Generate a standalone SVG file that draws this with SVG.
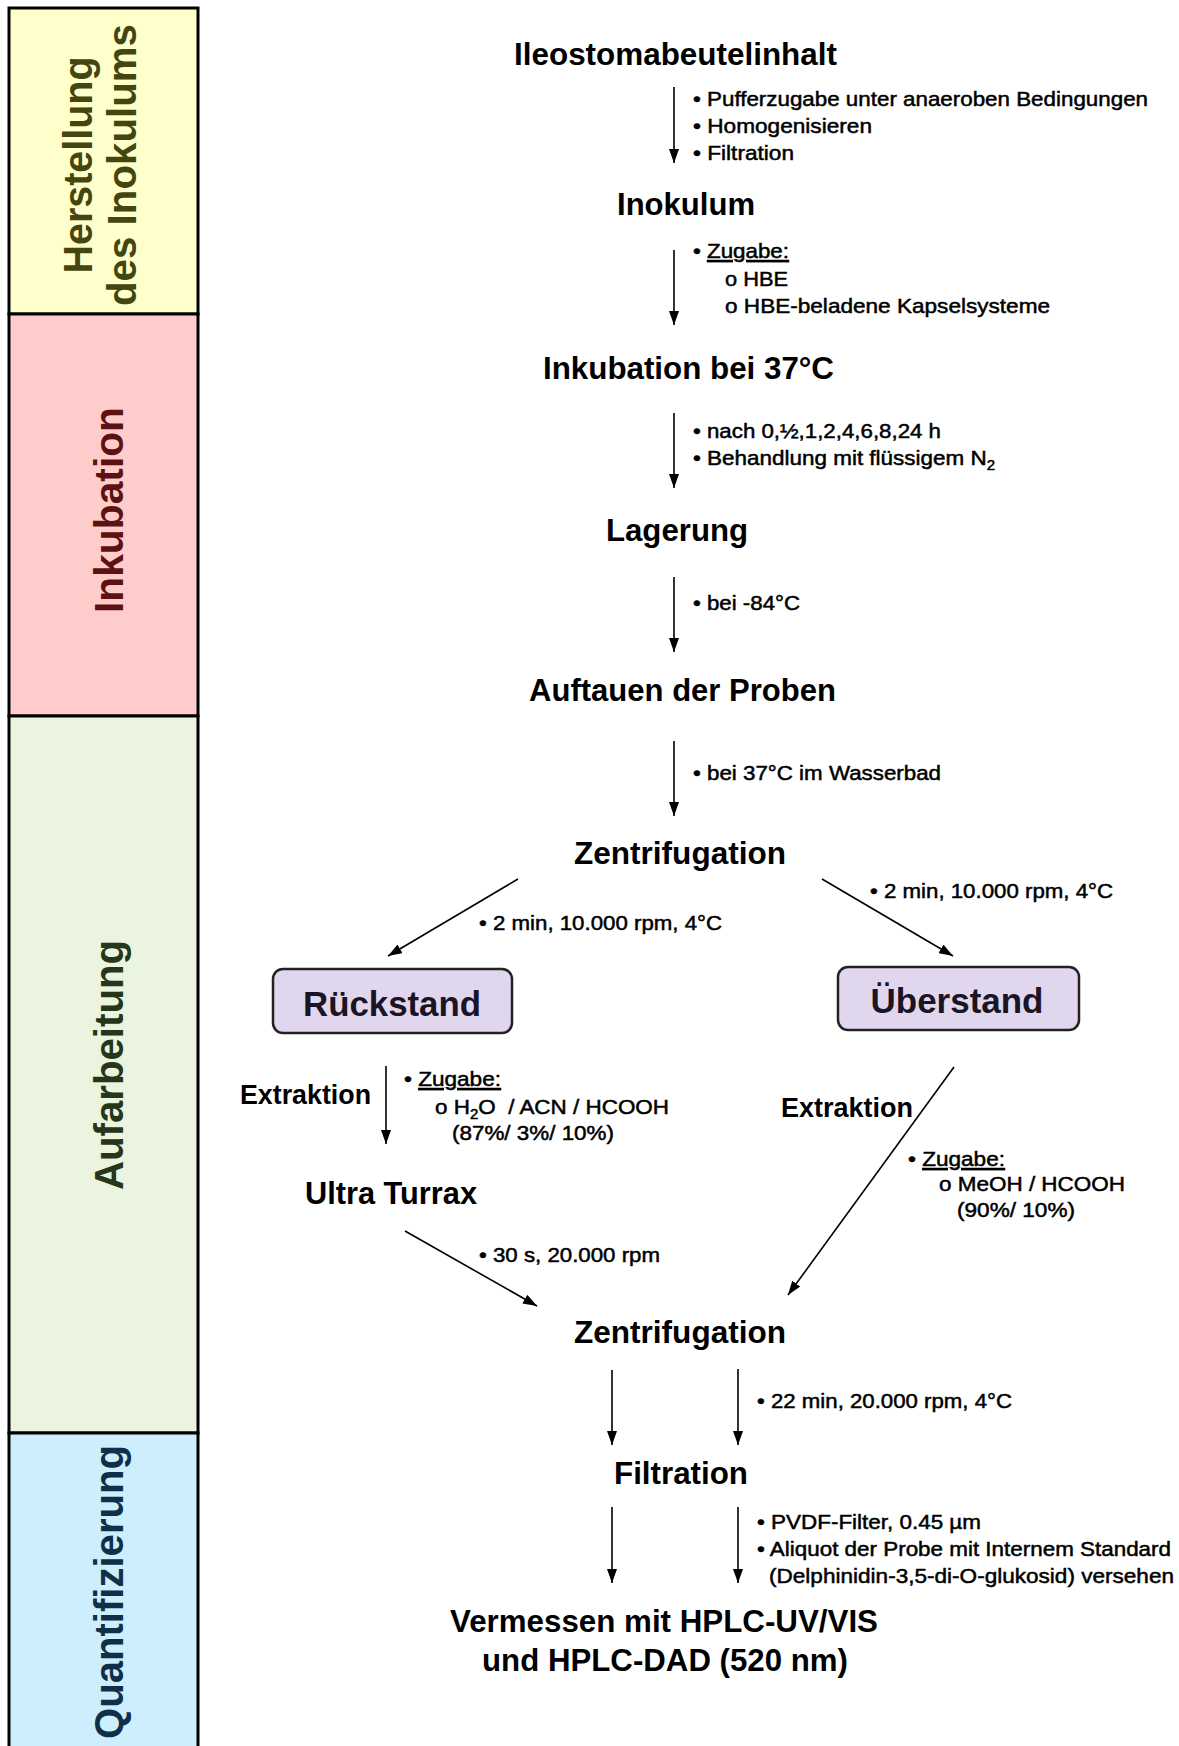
<svg xmlns="http://www.w3.org/2000/svg" width="1179" height="1746" viewBox="0 0 1179 1746">
  <defs>
    <marker id="ah" viewBox="0 0 14 10" refX="14" refY="5" markerWidth="14" markerHeight="10" orient="auto" markerUnits="userSpaceOnUse">
      <path d="M0,0 L14,5 L0,10 z" fill="#000"/>
    </marker>
    <style>
      text { font-family: "Liberation Sans", Arial, sans-serif; fill: #000; }
      .phase { font-size: 40px; font-weight: bold; text-anchor: middle; }
      .title { font-size: 31px; font-weight: bold; }
      .sub { font-size: 27px; font-weight: bold; }
      .boxlbl { font-size: 35px; font-weight: bold; text-anchor: middle; fill: #1a1424; }
      .note { font-size: 21px; stroke: #000; stroke-width: 0.5px; }
      .ul { text-decoration: underline; }
      .box { fill: #e0d7ee; stroke: #222; stroke-width: 2.5; }
      .conn line { stroke: #000; stroke-width: 1.6; marker-end: url(#ah); }
      .band { stroke: #000; stroke-width: 3; }
    </style>
  </defs>
  <rect x="0" y="0" width="1179" height="1746" fill="#fff"/>

  <!-- phase column -->
  <g id="phase-herstellung">
    <rect class="band" x="9" y="8" width="189" height="306" fill="#ffffcc"/>
    <text class="phase" style="fill:#45450f" transform="translate(92,165) rotate(-90)" textLength="217" lengthAdjust="spacingAndGlyphs">Herstellung</text>
    <text class="phase" style="fill:#45450f" transform="translate(136,165) rotate(-90)" textLength="282" lengthAdjust="spacingAndGlyphs">des Inokulums</text>
  </g>
  <g id="phase-inkubation">
    <rect class="band" x="9" y="314" width="189" height="402" fill="#ffcccc"/>
    <text class="phase" style="fill:#5c1212" transform="translate(123,510) rotate(-90)" textLength="206" lengthAdjust="spacingAndGlyphs">Inkubation</text>
  </g>
  <g id="phase-aufarbeitung">
    <rect class="band" x="9" y="716" width="189" height="717" fill="#ebf4df"/>
    <text class="phase" style="fill:#26361a" transform="translate(123,1065) rotate(-90)" textLength="250" lengthAdjust="spacingAndGlyphs">Aufarbeitung</text>
  </g>
  <g id="phase-quantifizierung">
    <rect class="band" x="9" y="1433" width="189" height="330" fill="#cdeefc"/>
    <text class="phase" style="fill:#0f3048" transform="translate(123,1592) rotate(-90)" textLength="294" lengthAdjust="spacingAndGlyphs">Quantifizierung</text>
  </g>

  <!-- connectors -->
  <g id="connectors" class="conn">
    <line x1="674" y1="87" x2="674" y2="163"/>
    <line x1="674" y1="250" x2="674" y2="325"/>
    <line x1="674" y1="413" x2="674" y2="488"/>
    <line x1="674" y1="577" x2="674" y2="652"/>
    <line x1="674" y1="741" x2="674" y2="816"/>
    <line x1="518" y1="879" x2="388" y2="956"/>
    <line x1="822" y1="879" x2="953" y2="956"/>
    <line x1="386" y1="1066" x2="386" y2="1144"/>
    <line x1="405" y1="1231" x2="537" y2="1306"/>
    <line x1="954" y1="1067" x2="788" y2="1295"/>
    <line x1="612" y1="1370" x2="612" y2="1445"/>
    <line x1="738" y1="1369" x2="738" y2="1445"/>
    <line x1="612" y1="1507" x2="612" y2="1583"/>
    <line x1="738" y1="1507" x2="738" y2="1583"/>
  </g>

  <!-- process steps -->
  <g id="n-ileostoma">
    <text class="title" x="514" y="65" textLength="323" lengthAdjust="spacingAndGlyphs">Ileostomabeutelinhalt</text>
  </g>
  <g id="n-ileostoma-notes">
    <text class="note" x="693" y="106" textLength="455" lengthAdjust="spacingAndGlyphs">• Pufferzugabe unter anaeroben Bedingungen</text>
    <text class="note" x="693" y="133" textLength="179" lengthAdjust="spacingAndGlyphs">• Homogenisieren</text>
    <text class="note" x="693" y="160" textLength="101" lengthAdjust="spacingAndGlyphs">• Filtration</text>
  </g>
  <g id="n-inokulum">
    <text class="title" x="617" y="215" textLength="138" lengthAdjust="spacingAndGlyphs">Inokulum</text>
  </g>
  <g id="n-inokulum-notes">
    <text class="note" x="693" y="258" textLength="96" lengthAdjust="spacingAndGlyphs">• <tspan class="ul">Zugabe:</tspan></text>
    <text class="note" x="725" y="286" textLength="63" lengthAdjust="spacingAndGlyphs">o HBE</text>
    <text class="note" x="725" y="313" textLength="325" lengthAdjust="spacingAndGlyphs">o HBE-beladene Kapselsysteme</text>
  </g>
  <g id="n-inkubation">
    <text class="title" x="543" y="379" textLength="291" lengthAdjust="spacingAndGlyphs">Inkubation bei 37°C</text>
  </g>
  <g id="n-inkubation-notes">
    <text class="note" x="693" y="438" textLength="248" lengthAdjust="spacingAndGlyphs">• nach 0,½,1,2,4,6,8,24 h</text>
    <text class="note" x="693" y="465" textLength="302" lengthAdjust="spacingAndGlyphs">• Behandlung mit flüssigem N<tspan font-size="14" dy="5">2</tspan></text>
  </g>
  <g id="n-lagerung">
    <text class="title" x="606" y="541" textLength="142" lengthAdjust="spacingAndGlyphs">Lagerung</text>
    <text class="note" x="693" y="610" textLength="107" lengthAdjust="spacingAndGlyphs">• bei -84°C</text>
  </g>
  <g id="n-auftauen">
    <text class="title" x="529" y="701" textLength="307" lengthAdjust="spacingAndGlyphs">Auftauen der Proben</text>
    <text class="note" x="693" y="780" textLength="248" lengthAdjust="spacingAndGlyphs">• bei 37°C im Wasserbad</text>
  </g>
  <g id="n-zentrifugation-1">
    <text class="title" x="574" y="864" textLength="212" lengthAdjust="spacingAndGlyphs">Zentrifugation</text>
    <text class="note" x="870" y="898" textLength="243" lengthAdjust="spacingAndGlyphs">• 2 min, 10.000 rpm, 4°C</text>
    <text class="note" x="479" y="930" textLength="243" lengthAdjust="spacingAndGlyphs">• 2 min, 10.000 rpm, 4°C</text>
  </g>
  <g id="n-rueckstand">
    <rect class="box" x="273" y="969" width="239" height="64" rx="10"/>
    <text class="boxlbl" x="392" y="1016" textLength="178" lengthAdjust="spacingAndGlyphs">Rückstand</text>
  </g>
  <g id="n-ueberstand">
    <rect class="box" x="838" y="967" width="241" height="63" rx="10"/>
    <text class="boxlbl" x="957" y="1013" textLength="173" lengthAdjust="spacingAndGlyphs">Überstand</text>
  </g>
  <g id="n-extraktion-links">
    <text class="sub" x="240" y="1104" textLength="131" lengthAdjust="spacingAndGlyphs">Extraktion</text>
    <text class="note" x="404" y="1086" textLength="97" lengthAdjust="spacingAndGlyphs">• <tspan class="ul">Zugabe:</tspan></text>
    <text class="note" x="435" y="1114" textLength="234" lengthAdjust="spacingAndGlyphs">o H<tspan font-size="14" dy="5">2</tspan><tspan dy="-5">O&#160; / ACN / HCOOH</tspan></text>
    <text class="note" x="452" y="1140" textLength="162" lengthAdjust="spacingAndGlyphs">(87%/ 3%/ 10%)</text>
  </g>
  <g id="n-ultra-turrax">
    <text class="title" x="305" y="1204" textLength="172" lengthAdjust="spacingAndGlyphs">Ultra Turrax</text>
    <text class="note" x="479" y="1262" textLength="181" lengthAdjust="spacingAndGlyphs">• 30 s, 20.000 rpm</text>
  </g>
  <g id="n-extraktion-rechts">
    <text class="sub" x="781" y="1117" textLength="132" lengthAdjust="spacingAndGlyphs">Extraktion</text>
    <text class="note" x="908" y="1166" textLength="97" lengthAdjust="spacingAndGlyphs">• <tspan class="ul">Zugabe:</tspan></text>
    <text class="note" x="939" y="1191" textLength="186" lengthAdjust="spacingAndGlyphs">o MeOH / HCOOH</text>
    <text class="note" x="957" y="1217" textLength="118" lengthAdjust="spacingAndGlyphs">(90%/ 10%)</text>
  </g>
  <g id="n-zentrifugation-2">
    <text class="title" x="574" y="1343" textLength="212" lengthAdjust="spacingAndGlyphs">Zentrifugation</text>
    <text class="note" x="757" y="1408" textLength="255" lengthAdjust="spacingAndGlyphs">• 22 min, 20.000 rpm, 4°C</text>
  </g>
  <g id="n-filtration">
    <text class="title" x="614" y="1484" textLength="134" lengthAdjust="spacingAndGlyphs">Filtration</text>
    <text class="note" x="757" y="1529" textLength="224" lengthAdjust="spacingAndGlyphs">• PVDF-Filter, 0.45 µm</text>
    <text class="note" x="757" y="1556" textLength="414" lengthAdjust="spacingAndGlyphs">• Aliquot der Probe mit Internem Standard</text>
    <text class="note" x="769" y="1583" textLength="405" lengthAdjust="spacingAndGlyphs">(Delphinidin-3,5-di-O-glukosid) versehen</text>
  </g>
  <g id="n-vermessen">
    <text class="title" x="450" y="1632" textLength="428" lengthAdjust="spacingAndGlyphs">Vermessen mit HPLC-UV/VIS</text>
    <text class="title" x="482" y="1671" textLength="366" lengthAdjust="spacingAndGlyphs">und HPLC-DAD (520 nm)</text>
  </g>
</svg>
